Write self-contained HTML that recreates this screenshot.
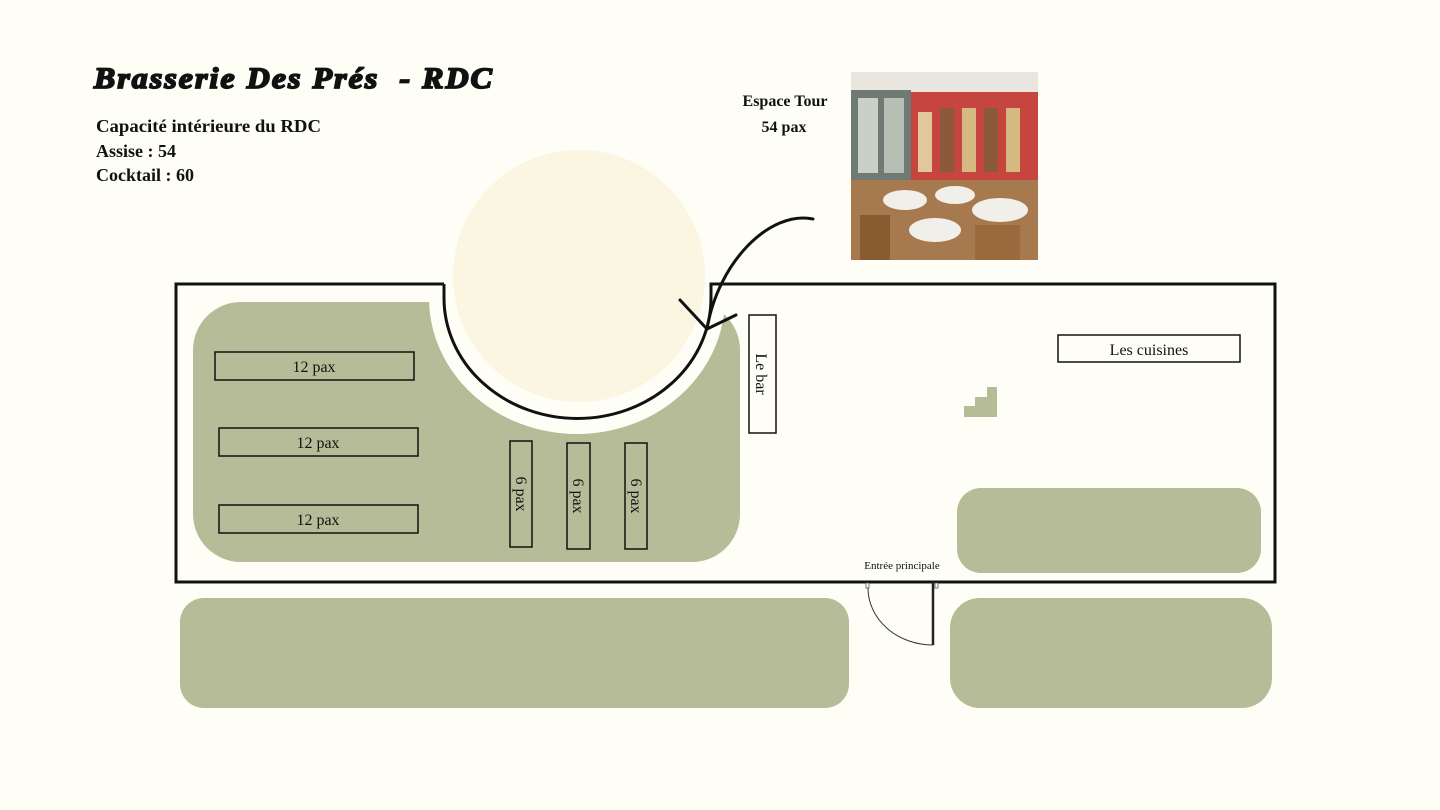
<!DOCTYPE html>
<html><head><meta charset="utf-8"><style>
html,body{margin:0;padding:0;background:#fefef7;}
svg{display:block}
text{font-family:"Liberation Serif",serif;fill:#111}
</style></head><body>
<svg width="1440" height="810" viewBox="0 0 1440 810" xmlns="http://www.w3.org/2000/svg">
<rect width="1440" height="810" fill="#fefef7"/>
<text x="94" y="88" font-size="30" font-weight="bold" font-style="italic" style="letter-spacing:2px;stroke:#111;stroke-width:1.8" textLength="400" lengthAdjust="spacingAndGlyphs">Brasserie Des Prés&#160;&#160;- RDC</text>
<text x="96" y="132" font-size="18" font-weight="bold" textLength="225" lengthAdjust="spacingAndGlyphs">Capacité intérieure du RDC</text>
<text x="96" y="157" font-size="18" font-weight="bold">Assise : 54</text>
<text x="96" y="181" font-size="18" font-weight="bold">Cocktail : 60</text>
<text x="785" y="106" font-size="16" font-weight="bold" text-anchor="middle">Espace Tour</text>
<text x="784" y="132" font-size="16" font-weight="bold" text-anchor="middle">54 pax</text>

<!-- photo -->
<g>
<rect x="851" y="72" width="187" height="188" fill="#b9ab92"/>
<rect x="851" y="72" width="187" height="20" fill="#e8e6df"/>
<rect x="851" y="90" width="60" height="90" fill="#6f7a74"/>
<rect x="858" y="98" width="20" height="75" fill="#c9d0c6"/>
<rect x="884" y="98" width="20" height="75" fill="#b7bfb4"/>
<rect x="911" y="92" width="127" height="90" fill="#c7453f"/>
<rect x="918" y="112" width="14" height="60" fill="#e0c89a"/>
<rect x="940" y="108" width="14" height="64" fill="#8b5a3a"/>
<rect x="962" y="108" width="14" height="64" fill="#d5b980"/>
<rect x="984" y="108" width="14" height="64" fill="#8b5a3a"/>
<rect x="1006" y="108" width="14" height="64" fill="#d5b980"/>
<rect x="851" y="180" width="187" height="80" fill="#a67a4e"/>
<ellipse cx="905" cy="200" rx="22" ry="10" fill="#f1efe9"/>
<ellipse cx="955" cy="195" rx="20" ry="9" fill="#f1efe9"/>
<ellipse cx="1000" cy="210" rx="28" ry="12" fill="#f1efe9"/>
<ellipse cx="935" cy="230" rx="26" ry="12" fill="#f1efe9"/>
<rect x="860" y="215" width="30" height="45" fill="#8a5a30"/>
<rect x="975" y="225" width="45" height="35" fill="#9a6a3c"/>
</g>

<!-- left green area with cutout -->
<rect x="193" y="302" width="547" height="260" rx="48" fill="#b6bc98"/>
<ellipse cx="577" cy="298" rx="148" ry="136" fill="#fefef7"/>
<rect x="420" y="200" width="330" height="98" fill="#fefef7"/>
<circle cx="579" cy="276" r="126" fill="#faf6e2"/>

<!-- walls -->
<path d="M444,284 L176,284 L176,582 L1275,582 L1275,284 L711,284 L711,298" fill="none" stroke="#111" stroke-width="3"/>
<path d="M444,284 L444,298 A133,120 0 0 0 711,298" fill="none" stroke="#111" stroke-width="3"/>

<!-- tables -->
<g fill="none" stroke="#111" stroke-width="1.5">
<rect x="215" y="352" width="199" height="28"/>
<rect x="219" y="428" width="199" height="28"/>
<rect x="219" y="505" width="199" height="28"/>
<rect x="510" y="441" width="22" height="106"/>
<rect x="567" y="443" width="23" height="106"/>
<rect x="625" y="443" width="22" height="106"/>
<rect x="749" y="315" width="27" height="118"/>
<rect x="1058" y="335" width="182" height="27"/>
</g>
<text x="314" y="372" font-size="16" text-anchor="middle">12 pax</text>
<text x="318" y="448" font-size="16" text-anchor="middle">12 pax</text>
<text x="318" y="525" font-size="16" text-anchor="middle">12 pax</text>
<text transform="translate(516,494) rotate(90)" font-size="16" text-anchor="middle">6 pax</text>
<text transform="translate(573,496) rotate(90)" font-size="16" text-anchor="middle">6 pax</text>
<text transform="translate(631,496) rotate(90)" font-size="16" text-anchor="middle">6 pax</text>
<text transform="translate(756,374) rotate(90)" font-size="16" text-anchor="middle">Le bar</text>
<text x="1149" y="355" font-size="16" text-anchor="middle">Les cuisines</text>

<!-- stairs -->
<path d="M964,417 L997,417 L997,387 L987,387 L987,397 L975,397 L975,406 L964,406 Z" fill="#b6bc98"/>

<!-- green blocks -->
<rect x="957" y="488" width="304" height="85" rx="24" fill="#b6bc98"/>
<rect x="180" y="598" width="669" height="110" rx="24" fill="#b6bc98"/>
<rect x="950" y="598" width="322" height="110" rx="30" fill="#b6bc98"/>

<!-- door -->
<text x="902" y="569" font-size="11" text-anchor="middle">Entrée principale</text>
<rect x="866" y="583" width="3" height="5" fill="#fff" stroke="#555" stroke-width="0.8"/>
<rect x="935" y="583" width="3" height="5" fill="#fff" stroke="#555" stroke-width="0.8"/>
<line x1="933" y1="582" x2="933" y2="645" stroke="#222" stroke-width="2.5"/>
<path d="M868,588 A65,57 0 0 0 933,645" fill="none" stroke="#333" stroke-width="1"/>

<!-- arrow -->
<path d="M813,219 C770,210 718,262 707,329" fill="none" stroke="#111" stroke-width="3" stroke-linecap="round"/>
<path d="M680,300 L707,329 L736,315" fill="none" stroke="#111" stroke-width="3" stroke-linecap="round" stroke-linejoin="round"/>
</svg>
</body></html>
